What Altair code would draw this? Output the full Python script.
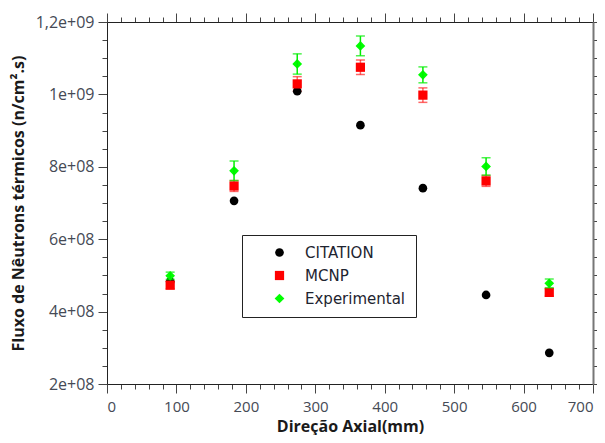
import altair as alt
import pandas as pd

# ---- data ----
axial_mm = [91, 183, 274, 365, 455, 546, 637]
citation = [4.83e8, 7.06e8, 1.009e9, 9.15e8, 7.41e8, 4.46e8, 2.86e8]
mcnp = [4.73e8, 7.47e8, 1.029e9, 1.075e9, 9.98e8, 7.61e8, 4.53e8]
mcnp_err = [1.0e7, 1.5e7, 2.0e7, 2.0e7, 2.0e7, 1.5e7, 1.0e7]
experimental = [4.99e8, 7.89e8, 1.084e9, 1.134e9, 1.054e9, 8.01e8, 4.78e8]
exp_err = [1.0e7, 2.7e7, 2.8e7, 2.7e7, 2.2e7, 2.4e7, 1.2e7]

series_names = ["CITATION", "MCNP", "Experimental"]
series_colors = ["#000000", "#ff0000", "#00ff00"]
series_shapes = ["circle", "square", "diamond"]

x_ticks = list(range(0, 701, 20))
x_major = [0, 100, 200, 300, 400, 500, 600, 700]
y_ticks = list(range(200_000_000, 1_200_000_001, 50_000_000))
y_major = [200_000_000, 400_000_000, 600_000_000, 800_000_000, 1_000_000_000, 1_200_000_000]
y_major_labels = ["2e+08", "4e+08", "6e+08", "8e+08", "1e+09", "1,2e+09"]

rows = []
for i, xv in enumerate(axial_mm):
    rows.append({"x": xv, "v": citation[i], "lo": citation[i], "hi": citation[i], "s": "CITATION"})
    rows.append({"x": xv, "v": mcnp[i], "lo": mcnp[i] - mcnp_err[i], "hi": mcnp[i] + mcnp_err[i], "s": "MCNP"})
    rows.append({"x": xv, "v": experimental[i], "lo": experimental[i] - exp_err[i],
                 "hi": experimental[i] + exp_err[i], "s": "Experimental"})
df = pd.DataFrame(rows)

FONT = "Open Sans"
LABEL_COLOR = "#454a55"
TICK_COLOR = "#444444"

x_label_expr = "indexof(" + str(x_major) + ", datum.value) >= 0 ? datum.label : ''"
y_expr = "''"
for v, l in zip(y_major, y_major_labels):
    y_expr = f"datum.value == {v} ? '{l}' : (" + y_expr + ")"

x_tick_size = {"condition": {"test": "datum.value % 100 === 0", "value": 9}, "value": 5}
y_tick_size = {"condition": {"test": "datum.value % 200000000 === 0", "value": 9}, "value": 5}

xscale = alt.Scale(domain=[0, 700], nice=False, zero=False)
yscale = alt.Scale(domain=[200_000_000, 1_200_000_000], nice=False, zero=False)

x_bottom = alt.Axis(orient="bottom", values=x_ticks, labelExpr=x_label_expr, tickSize=x_tick_size,
                    labelOverlap=False, labelFont=FONT, labelFontSize=15, labelColor=LABEL_COLOR,
                    labelPadding=6, tickColor=TICK_COLOR, domainColor="#222222", grid=False,
                    title="Direção Axial(mm)", titleFont=FONT, titleFontSize=16, titleFontWeight="bold",
                    titleColor="#1a1a1a", titlePadding=4)
y_left = alt.Axis(orient="left", values=y_ticks, labelExpr=y_expr, tickSize=y_tick_size,
                  labelOverlap=False, labelFont=FONT, labelFontSize=16, labelColor=LABEL_COLOR,
                  labelPadding=4, tickColor=TICK_COLOR, domainColor="#222222", grid=False,
                  title="Fluxo de Nêutrons térmicos (n/cm².s)", titleFont=FONT, titleFontSize=16,
                  titleFontWeight="bold", titleColor="#1a1a1a", titlePadding=9)
x_top = alt.Axis(orient="top", values=x_ticks, labels=False, tickSize=x_tick_size, title=None,
                 tickColor=TICK_COLOR, domainColor="#222222", grid=False)
y_right = alt.Axis(orient="right", values=y_ticks, labels=False, tickSize=y_tick_size, title=None,
                   tickColor=TICK_COLOR, domainColor="#777777", domainWidth=2, grid=False)

base = alt.Chart(df)

frame_axes = base.mark_point(opacity=0).encode(
    x=alt.X("x:Q", scale=xscale, axis=x_top),
    y=alt.Y("v:Q", scale=yscale, axis=y_right),
)

err_m = base.transform_filter("datum.s == 'MCNP'").mark_errorbar(
    color="#ff0000", opacity=0.6, thickness=1.5, ticks={"size": 9, "thickness": 1.5}
).encode(
    x=alt.X("x:Q", scale=xscale, axis=None),
    y=alt.Y("lo:Q", scale=yscale, axis=None),
    y2="hi:Q",
)
err_e = base.transform_filter("datum.s == 'Experimental'").mark_errorbar(
    color="#00ee00", thickness=1.5, ticks={"size": 9, "thickness": 1.5}
).encode(
    x=alt.X("x:Q", scale=xscale, axis=None),
    y=alt.Y("lo:Q", scale=yscale, axis=None),
    y2="hi:Q",
)

legend = alt.Legend(title=None, orient="none", legendX=135, legendY=213, padding=10,
                    strokeColor="#222222", fillColor="white", symbolOffset=20, labelOffset=18,
                    labelFont="DejaVu Sans", labelFontSize=15, labelColor="#1e2430",
                    rowPadding=7, symbolSize=80, symbolStrokeWidth=0)

points = base.mark_point(filled=True, opacity=1, strokeWidth=0).encode(
    x=alt.X("x:Q", scale=xscale, axis=x_bottom),
    y=alt.Y("v:Q", scale=yscale, axis=y_left),
    color=alt.Color("s:N", scale=alt.Scale(domain=series_names, range=series_colors), legend=legend),
    shape=alt.Shape("s:N", scale=alt.Scale(domain=series_names, range=series_shapes), legend=legend),
    size=alt.Size("s:N", scale=alt.Scale(domain=series_names, range=[75, 95, 40]), legend=None),
    order=alt.Order("ord:Q"),
).transform_calculate(ord="datum.s == 'CITATION' ? 0 : (datum.s == 'MCNP' ? 1 : 2)")

chart = alt.layer(frame_axes, err_m, points, err_e).resolve_axis(
    x="independent", y="independent"
).properties(
    width=486, height=362,
    autosize=alt.AutoSizeParams(type="none"),
    padding={"left": 99, "top": 14, "right": 4, "bottom": 51},
).configure_view(stroke=None)

chart.save("out.html", embed_options={"renderer": "svg", "actions": False})
